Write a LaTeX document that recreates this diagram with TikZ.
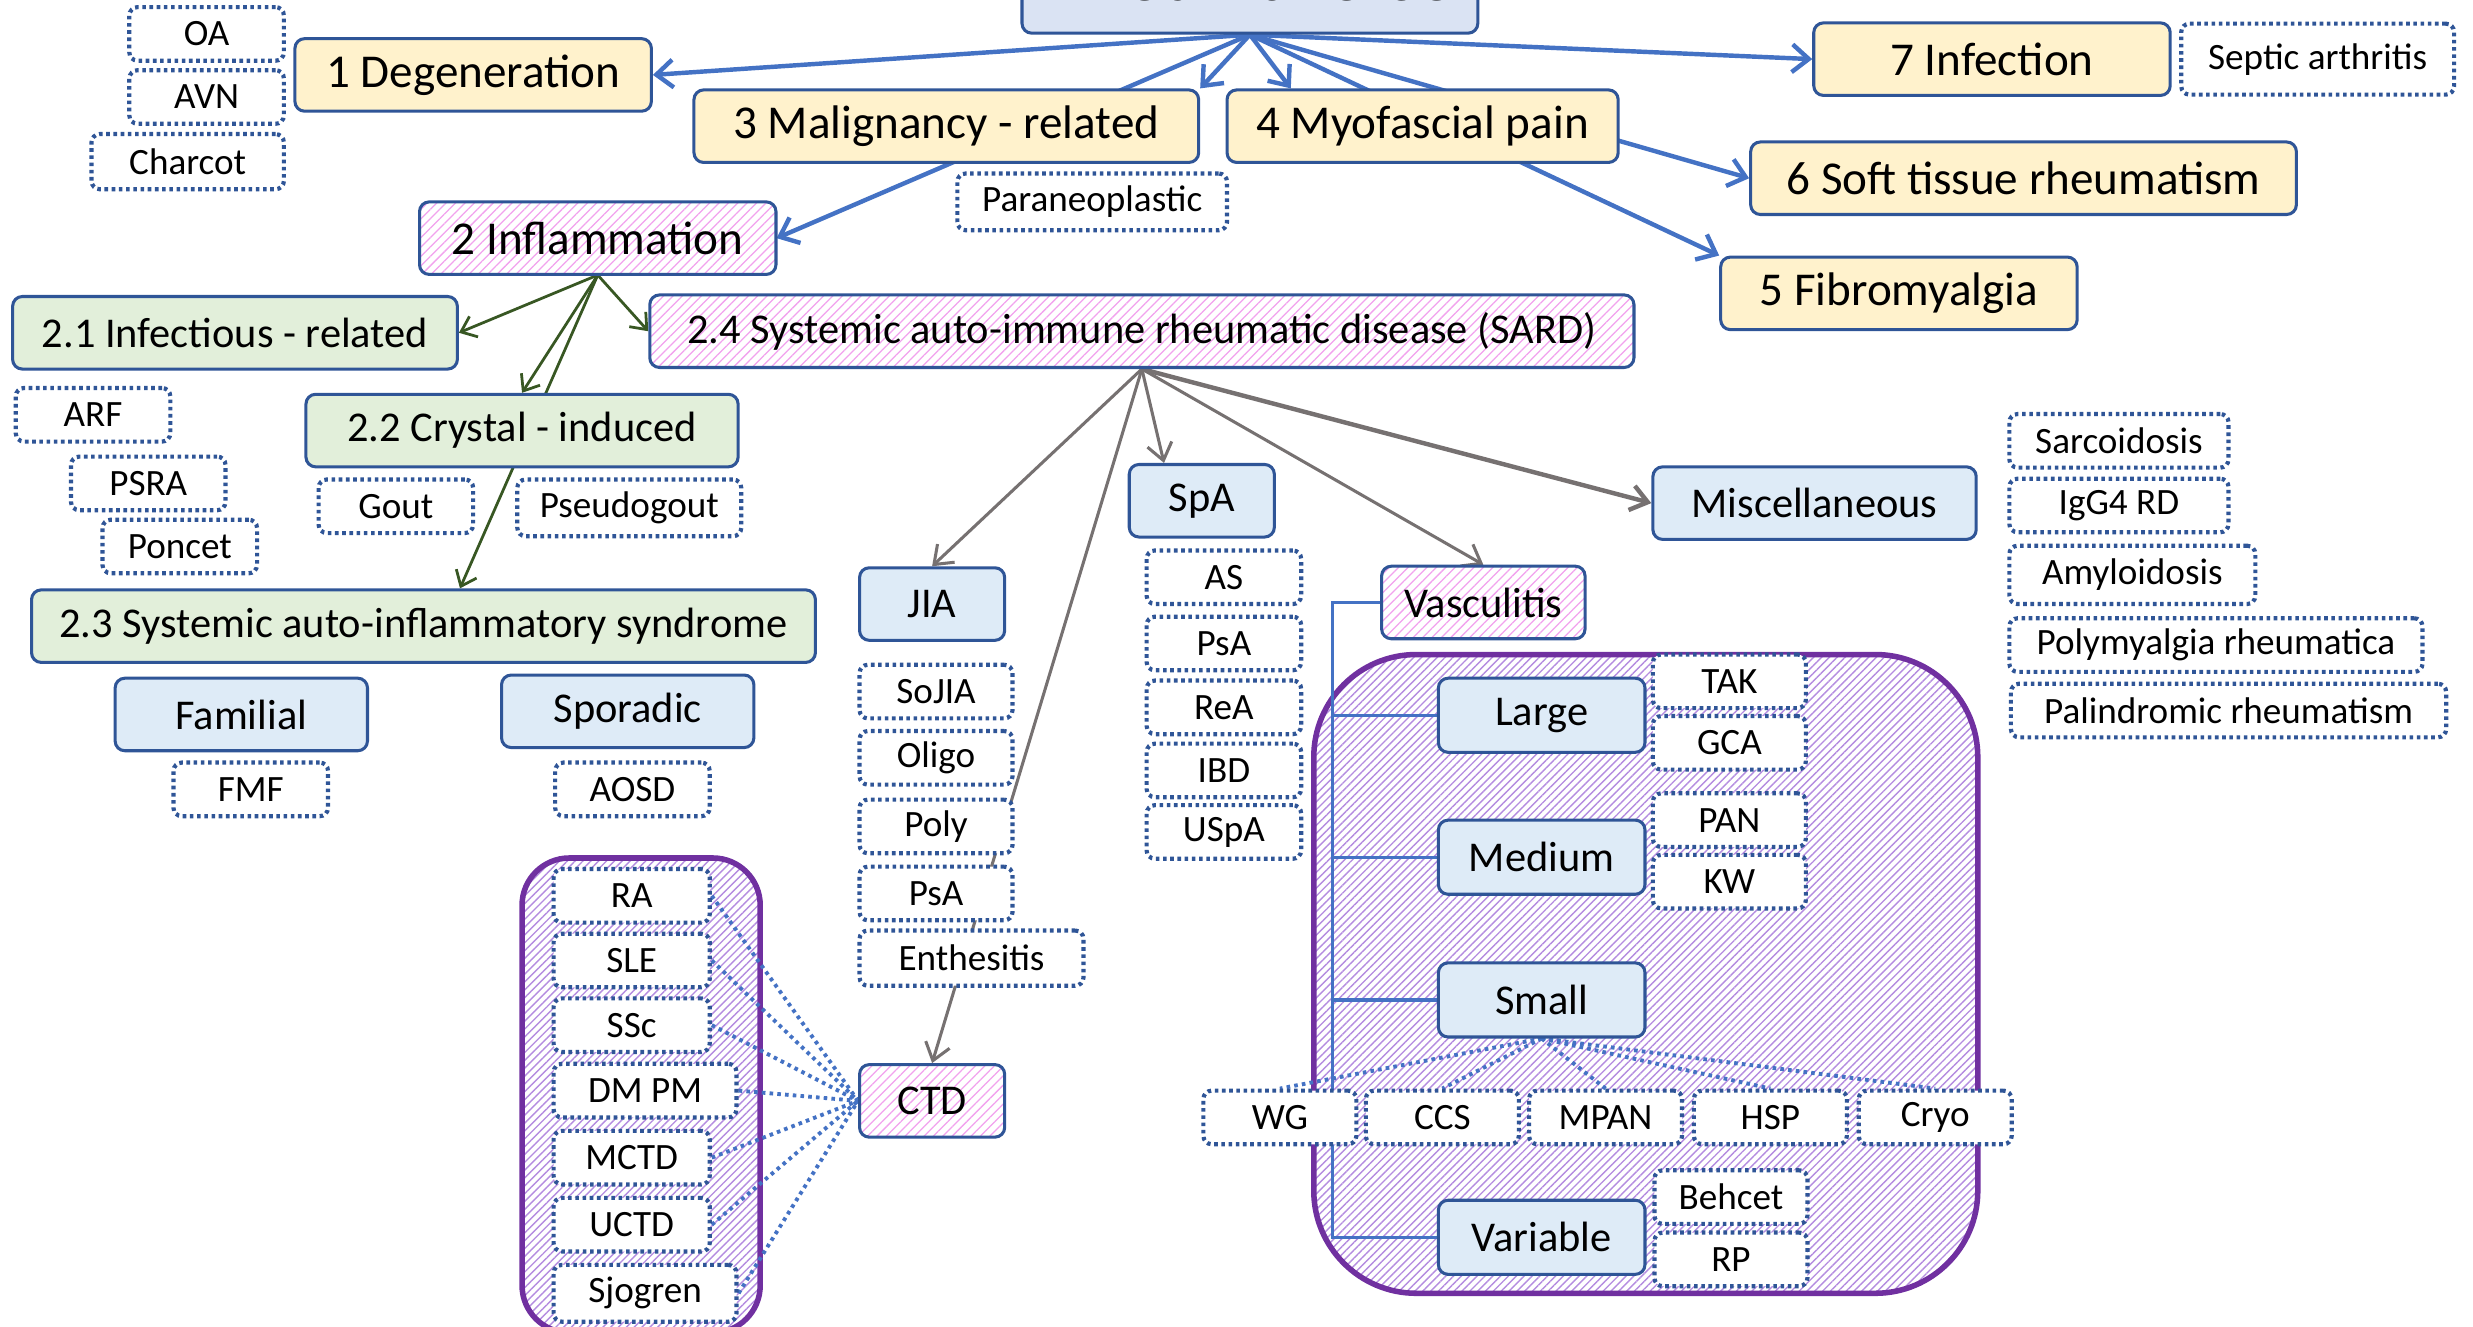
\documentclass[tikz,border=0pt]{standalone}
\usepackage{fontspec}
\setmainfont{Carlito}
\usetikzlibrary{arrows.meta,patterns.meta}
\pgfdeclarelayer{bg}
\pgfdeclarelayer{mid}
\pgfsetlayers{bg,mid,main}
\definecolor{boxblue}{HTML}{2F5597}
\definecolor{arrowblue}{HTML}{4472C4}
\definecolor{topfill}{HTML}{FFF2CC}
\definecolor{greenfill}{HTML}{E2EFDA}
\definecolor{bluefill}{HTML}{DEEBF7}
\definecolor{rootfill}{HTML}{DAE3F3}
\definecolor{darkgreen}{HTML}{385723}
\definecolor{arrowgray}{HTML}{767171}
\definecolor{purpleline}{HTML}{7030A0}
\definecolor{pinkhatch}{HTML}{F2A2EE}
\definecolor{purplehatch}{HTML}{B48CE0}
\tikzset{
  box/.style={rounded corners=3.5pt, line width=1.1pt, draw=boxblue, inner sep=0pt,
    minimum height=9.2mm, font=\fontsize{15.3}{18}\selectfont},
  rootbox/.style={box, fill=rootfill, font=\fontsize{26}{30}\selectfont\bfseries},
  topbox/.style={box, fill=topfill, font=\fontsize{17}{20}\selectfont},
  greenbox/.style={box, fill=greenfill},
  bluebox/.style={box, fill=bluefill},
  pinkbox/.style={box, preaction={fill=white},
    pattern={Lines[angle=45,distance=2.4pt,line width=0.45pt]}, pattern color=pinkhatch},
  dotbox/.style={rounded corners=3pt, draw=boxblue, line width=1.5pt,
    dash pattern=on 1.3pt off 1.3pt, fill=white, inner sep=0pt,
    minimum width=19.6mm, minimum height=6.8mm, font=\fontsize{13.4}{16}\selectfont},
  groupbox/.style={draw=purpleline, line width=2pt, preaction={fill=white},
    pattern={Lines[angle=45,distance=2pt,line width=0.5pt]}, pattern color=purplehatch},
  toparrow/.style={draw=arrowblue, line width=1.6pt, -{Straight Barb[length=6pt,width=10pt]}},
  greenarrow/.style={draw=darkgreen, line width=1pt, -{Straight Barb[length=5pt,width=8pt]}},
  grayarrow/.style={draw=arrowgray, line width=1.1pt, -{Straight Barb[length=6pt,width=9pt]}},
  treeline/.style={draw=arrowblue, line width=1.2pt},
  dotlink/.style={draw=arrowblue, line width=1.4pt, dash pattern=on 1.3pt off 1.5pt}
}
\begin{document}
\begin{tikzpicture}[x=0.2mm, y=-0.2mm]
\useasboundingbox (0,0) rectangle (1568,841);

\begin{pgfonlayer}{bg}
  \draw[groupbox, rounded corners=13mm] (833,415) rectangle (1254,820);
  \draw[groupbox, rounded corners=6mm] (331,544) rectangle (482,845);
\end{pgfonlayer}

\node[rootbox, minimum width=57.8mm, text height=13.9mm, text depth=4.1mm, anchor=south] (root) at (792.5,22) {Rheumaverse};

\node[topbox, minimum width=45.2mm] (deg) at (300,47.5) {1 Degeneration};
\node[topbox, minimum width=64mm] (mal) at (600,80) {3 Malignancy - related};
\node[topbox, minimum width=49.6mm] (myo) at (902,80) {4 Myofascial pain};
\node[topbox, minimum width=45.2mm] (infc) at (1263,37.5) {7 Infection};
\node[topbox, minimum width=69.2mm] (soft) at (1283,113) {6 Soft tissue rheumatism};
\node[topbox, minimum width=45.2mm] (fibro) at (1204,186) {5 Fibromyalgia};

\node[dotbox] (oa) at (131,21.5) {OA};
\node[dotbox] (avn) at (131,61.5) {AVN};
\node[dotbox, minimum width=24.4mm, minimum height=7mm] (charcot) at (119,102.5) {Charcot};
\node[dotbox, minimum width=34.2mm, minimum height=7.2mm] (paraneo) at (692.5,128) {Paraneoplastic};
\node[dotbox, minimum width=34.6mm, minimum height=9mm] (septic) at (1469.5,37.5) {Septic arthritis};

\node[pinkbox, minimum width=45.2mm, font=\fontsize{17}{20}\selectfont] (infl) at (379,151) {2 Inflammation};
\node[greenbox, minimum width=56.4mm] (infect) at (149,211) {2.1 Infectious - related};
\node[pinkbox, minimum width=124.8mm] (sard) at (724,210) {2.4 Systemic auto-immune rheumatic disease (SARD)};
\node[greenbox, minimum width=54.8mm] (crystal) at (331,273) {2.2 Crystal - induced};
\node[greenbox, minimum width=99.4mm] (autoinfl) at (268.5,397) {2.3 Systemic auto-inflammatory syndrome};

\node[dotbox] (arf) at (59,263) {ARF};
\node[dotbox] (psra) at (94,306.5) {PSRA};
\node[dotbox] (poncet) at (114,346.5) {Poncet};
\node[dotbox] (gout) at (251,321) {Gout};
\node[dotbox, minimum width=28.4mm, minimum height=7.2mm] (pseudo) at (399,322) {Pseudogout};
\node[bluebox, minimum width=32mm] (familial) at (153,453) {Familial};
\node[bluebox, minimum width=32mm] (sporadic) at (398,451) {Sporadic};
\node[dotbox] (fmf) at (159,500.5) {FMF};
\node[dotbox] (aosd) at (401,500.5) {AOSD};

\node[bluebox, minimum width=18.4mm] (jia) at (591,383) {JIA};
\node[bluebox, minimum width=18.4mm] (spa) at (762,317.5) {SpA};
\node[pinkbox, minimum width=25.8mm] (vasc) at (940.5,382) {Vasculitis};
\node[bluebox, minimum width=41mm] (misc) at (1150.5,319) {Miscellaneous};

\node[dotbox, minimum width=27.8mm] (sarc) at (1343.5,279.5) {Sarcoidosis};
\node[dotbox, minimum width=27.8mm] (igg) at (1343.5,320.5) {IgG4 RD};
\node[dotbox, minimum width=31.2mm, minimum height=7.4mm] (amyl) at (1352,364.5) {Amyloidosis};
\node[dotbox, minimum width=52.4mm] (pmr) at (1405,409) {Polymyalgia rheumatica};
\node[dotbox, minimum width=55.2mm] (palin) at (1413,450.5) {Palindromic rheumatism};

\node[dotbox, minimum width=19.4mm] (sojia) at (593.5,438.5) {SoJIA};
\node[dotbox, minimum width=19.4mm] (oligo) at (593.5,480.5) {Oligo};
\node[dotbox, minimum width=19.4mm] (poly) at (593.5,524) {Poly};
\node[dotbox, minimum width=19.4mm] (psaj) at (593.5,566.5) {PsA};
\node[dotbox, minimum width=28.4mm, minimum height=7mm] (enth) at (616,607.5) {Enthesitis};
\node[pinkbox, minimum width=18.4mm] (ctd) at (591,698) {CTD};

\node[dotbox] (as) at (776,366) {AS};
\node[dotbox] (psa) at (776,408) {PsA};
\node[dotbox] (rea) at (776,448.5) {ReA};
\node[dotbox] (ibd) at (776,488.5) {IBD};
\node[dotbox] (uspa) at (776,527.5) {USpA};

\node[bluebox, minimum width=26.2mm, minimum height=9.4mm] (large) at (977.5,453.5) {Large};
\node[bluebox, minimum width=26.2mm, minimum height=9.4mm] (medium) at (977.5,543.5) {Medium};
\node[bluebox, minimum width=26.2mm, minimum height=9.4mm] (small) at (977.5,634) {Small};
\node[bluebox, minimum width=26.2mm, minimum height=9.4mm] (variable) at (977.5,784.5) {Variable};

\node[dotbox, minimum width=19.4mm] (tak) at (1096.5,432) {TAK};
\node[dotbox, minimum width=19.4mm] (gca) at (1096.5,471) {GCA};
\node[dotbox, minimum width=19.4mm] (pan) at (1096.5,520) {PAN};
\node[dotbox, minimum width=19.4mm] (kw) at (1096.5,559) {KW};
\node[dotbox, minimum width=19.4mm] (behcet) at (1097.5,759) {Behcet};
\node[dotbox, minimum width=19.4mm] (rp) at (1097.5,798.5) {RP};

\node[dotbox, minimum width=19.4mm] (wg) at (811.5,708.5) {WG};
\node[dotbox, minimum width=19.4mm] (ccs) at (914.5,708.5) {CCS};
\node[dotbox, minimum width=19.4mm] (mpan) at (1018,708.5) {MPAN};
\node[dotbox, minimum width=19.4mm] (hsp) at (1122.5,708.5) {HSP};
\node[dotbox, minimum width=19.4mm] (cryo) at (1227,708.5) {Cryo};

\node[dotbox, minimum width=19.8mm] (ra) at (400.5,568) {RA};
\node[dotbox, minimum width=19.8mm] (sle) at (400.5,609) {SLE};
\node[dotbox, minimum width=19.8mm] (ssc) at (400.5,650) {SSc};
\node[dotbox, minimum width=23.2mm] (dmpm) at (409,691.5) {DM PM};
\node[dotbox, minimum width=19.8mm] (mctd) at (400.5,734) {MCTD};
\node[dotbox, minimum width=19.8mm] (uctd) at (400.5,776.5) {UCTD};
\node[dotbox, minimum width=23.2mm, minimum height=7.2mm] (sjogren) at (409,820) {Sjogren};

\begin{pgfonlayer}{mid}
  \draw[toparrow] (root.south) -- (deg.east);
  \draw[toparrow] (root.south) -- (mal.north east);
  \draw[toparrow] (root.south) -- (infl.east);
  \draw[toparrow] (root.south) -- (myo.164);
  \draw[toparrow] (root.south) -- (soft.west);
  \draw[toparrow] (root.south) -- (fibro.north west);
  \draw[toparrow] (root.south) -- (infc.west);

  \draw[greenarrow] (infl.south) -- (infect.east);
  \draw[greenarrow] (infl.south) -- (sard.west);
  \draw[greenarrow] (infl.south) -- (crystal.north);
  \draw[greenarrow] (infl.south) -- (autoinfl.46);

  \draw[grayarrow] (sard.south) -- (jia.north);
  \draw[grayarrow] (sard.south) -- (ctd.north);
  \draw[grayarrow] (sard.south) -- (spa.135);
  \draw[grayarrow] (sard.south) -- (vasc.north);
  \draw[grayarrow, line width=1.6pt] (sard.south) -- (misc.west);

  \coordinate (trunk) at (845,382);
  \draw[treeline] (vasc.west) -- (trunk) -- (trunk |- variable.west) -- (variable.west);
  \foreach \n in {large,medium,small}
    \draw[treeline] (trunk |- \n.west) -- (\n.west);

  \foreach \n in {wg,ccs,mpan,hsp,cryo}
    \draw[dotlink] (small.south) -- (\n.north);
  \foreach \n in {ra,sle,ssc,dmpm,mctd,uctd,sjogren}
    \draw[dotlink] (\n.east) -- (ctd.west);
\end{pgfonlayer}
\end{tikzpicture}
\end{document}
